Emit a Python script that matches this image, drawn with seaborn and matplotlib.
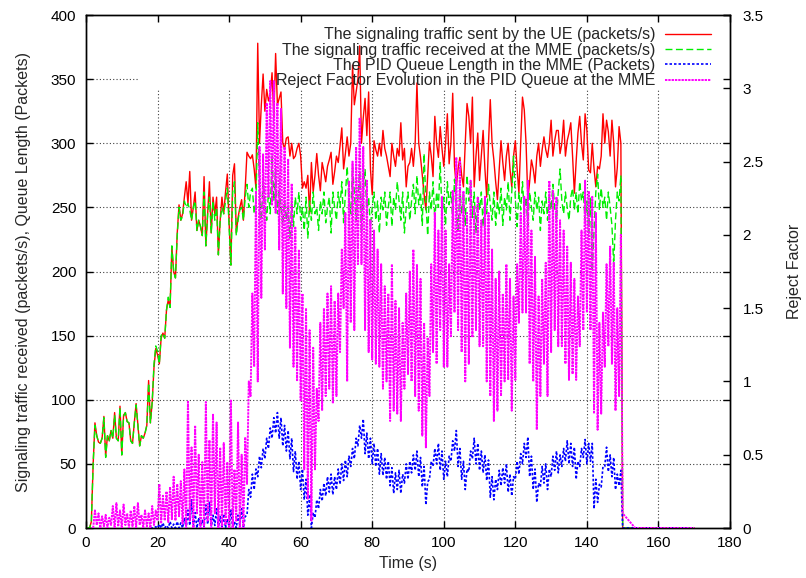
import numpy as np
import pandas as pd
import seaborn as sns
import matplotlib.pyplot as plt

# -----------------------------------------------------------------------------
# Data
# -----------------------------------------------------------------------------
# traffic series: one value every 0.5 s from t=0 to t=149.5, then 0 at 150 and 170
ue_sent = [
    0, 0, 0, 5, 50, 82, 72, 67, 66, 70,
    87, 56, 72, 68, 76, 70, 90, 70, 68, 95,
    57, 88, 90, 83, 82, 68, 66, 82, 97, 80,
    64, 72, 70, 74, 80, 115, 82, 98, 125, 140,
    135, 128, 148, 152, 148, 170, 178, 172, 219, 200,
    195, 230, 252, 240, 245, 258, 270, 253, 278, 240,
    250, 262, 232, 240, 235, 228, 274, 220, 245, 270,
    230, 258, 245, 258, 213, 240, 258, 245, 262, 276,
    238, 205, 275, 284, 230, 242, 250, 256, 240, 265,
    293, 290, 288, 291, 280, 265, 378, 300, 330, 354,
    325, 342, 333, 338, 355, 320, 370, 330, 335, 340,
    300, 296, 304, 305, 290, 300, 288, 290, 296, 300,
    290, 265, 270, 265, 275, 245, 285, 262, 275, 292,
    275, 263, 285, 278, 270, 282, 287, 293, 268, 278,
    290, 285, 298, 312, 280, 292, 305, 290, 300, 361,
    330, 340, 350, 376, 300, 320, 335, 306, 340, 280,
    260, 302, 295, 290, 300, 290, 310, 296, 290, 282,
    274, 300, 290, 282, 296, 290, 316, 287, 296, 266,
    282, 285, 296, 282, 300, 347, 300, 289, 275, 260,
    248, 275, 301, 290, 274, 321, 300, 289, 313, 296,
    282, 300, 323, 284, 300, 339, 282, 266, 280, 289,
    275, 266, 300, 331, 321, 300, 336, 266, 290, 308,
    271, 290, 310, 280, 258, 300, 334, 300, 287, 270,
    256, 280, 302, 285, 271, 290, 300, 280, 266, 290,
    302, 280, 261, 300, 336, 326, 300, 256, 270, 287,
    280, 269, 290, 300, 282, 295, 305, 295, 289, 300,
    318, 290, 302, 310, 310, 292, 300, 318, 290, 302,
    308, 316, 290, 261, 286, 308, 321, 300, 287, 323,
    310, 279, 277, 300, 280, 266, 282, 280, 290, 323,
    300, 318, 309, 290, 318, 300, 266, 281, 313, 300,
    0, 0,
]
mme_received = [
    0, 0, 0, 5, 50, 80, 72, 67, 66, 70,
    86, 55, 72, 68, 76, 70, 88, 70, 68, 94,
    57, 87, 90, 83, 82, 68, 66, 82, 96, 80,
    64, 72, 70, 74, 80, 113, 82, 98, 128, 142,
    138, 128, 150, 152, 148, 170, 180, 172, 220, 200,
    195, 228, 250, 240, 243, 255, 250, 253, 248, 240,
    250, 255, 232, 240, 235, 228, 262, 220, 245, 258,
    230, 255, 240, 250, 213, 240, 250, 245, 255, 265,
    235, 205, 262, 270, 228, 240, 248, 250, 240, 258,
    268, 250, 262, 265, 245, 255, 316, 262, 240, 270,
    255, 240, 262, 245, 290, 255, 280, 245, 262, 250,
    236, 255, 240, 250, 226, 255, 235, 258, 245, 262,
    240, 250, 232, 258, 226, 255, 240, 262, 245, 250,
    232, 255, 245, 262, 238, 250, 258, 230, 262, 250,
    240, 262, 250, 270, 238, 260, 282, 255, 245, 282,
    262, 240, 258, 278, 230, 262, 280, 245, 258, 235,
    250, 262, 240, 255, 230, 258, 248, 262, 236, 250,
    262, 235, 258, 248, 270, 255, 240, 262, 230, 250,
    262, 240, 255, 268, 245, 275, 252, 262, 236, 292,
    255, 228, 262, 248, 270, 240, 262, 250, 285, 245,
    258, 236, 270, 252, 262, 240, 272, 250, 232, 265,
    245, 262, 236, 275, 255, 270, 242, 262, 230, 258,
    248, 262, 235, 258, 245, 268, 252, 240, 262, 236,
    255, 245, 265, 236, 258, 248, 270, 240, 262, 290,
    256, 235, 262, 248, 270, 245, 258, 236, 262, 250,
    240, 262, 248, 258, 232, 255, 245, 262, 240, 258,
    248, 268, 250, 240, 262, 280, 255, 245, 262, 250,
    240, 258, 265, 248, 262, 245, 270, 255, 262, 240,
    255, 230, 258, 200, 232, 262, 276, 248, 265, 250,
    258, 240, 262, 250, 236, 205, 240, 262, 255, 275,
    0, 0,
]

# PID queue length (packets): low / high of the noisy band, each second t=18..149
queue_hi = [
    0, 1, 3, 4, 2, 5, 3, 5, 4, 8,
    14, 22, 12, 8, 6, 18, 20, 10, 15, 9,
    11, 7, 14, 5, 10, 15, 9, 30, 42, 46,
    56, 62, 70, 78, 86, 90, 86, 80, 76, 70,
    60, 52, 46, 38, 26, 12, 22, 30, 35, 40,
    42, 40, 46, 50, 53, 56, 62, 70, 80, 85,
    74, 70, 66, 62, 58, 55, 52, 47, 43, 45,
    42, 50, 52, 57, 60, 55, 48, 36, 52, 62,
    66, 60, 52, 56, 68, 76, 62, 52, 46, 60,
    70, 66, 60, 57, 53, 40, 38, 45, 47, 50,
    42, 40, 52, 58, 66, 71, 56, 46, 35, 48,
    50, 46, 56, 60, 57, 62, 68, 66, 63, 52,
    62, 69, 66, 66, 38, 34, 48, 63, 57, 55, 42, 45,
]
queue_lo = [
    0, 0, 0, 0, 0, 0, 0, 0, 0, 0,
    0, 2, 0, 0, 0, 1, 3, 0, 2, 0,
    0, 0, 1, 0, 0, 2, 0, 10, 24, 30,
    40, 47, 54, 62, 70, 74, 70, 64, 60, 54,
    44, 38, 30, 22, 10, 0, 8, 15, 21, 25,
    28, 26, 30, 34, 37, 40, 48, 54, 64, 70,
    58, 54, 50, 48, 42, 41, 38, 33, 27, 30,
    27, 35, 38, 43, 45, 40, 32, 18, 38, 48,
    50, 45, 38, 40, 52, 60, 48, 38, 30, 44,
    54, 50, 45, 43, 37, 24, 22, 30, 33, 35,
    28, 25, 38, 42, 50, 55, 40, 30, 20, 32,
    35, 30, 40, 45, 43, 48, 52, 50, 48, 38,
    48, 55, 50, 52, 15, 20, 32, 48, 44, 40, 30, 33,
]

# reject factor: low / high of the noisy band, each second t=2..149
reject_hi = [
    0.12, 0.10, 0.08, 0.09, 0.07, 0.15, 0.17, 0.12, 0.16, 0.10,
    0.12, 0.15, 0.17, 0.09, 0.12, 0.10, 0.15, 0.12, 0.30, 0.22,
    0.25, 0.28, 0.35, 0.30, 0.32, 0.40, 0.87, 0.55, 0.70, 0.50,
    0.45, 0.86, 0.60, 0.78, 0.72, 0.55, 0.58, 0.45, 0.87, 0.40,
    0.72, 0.50, 0.62, 1.00, 1.60, 2.30, 2.60, 2.55, 2.90, 3.05,
    3.05, 2.90, 2.86, 2.60, 2.52, 2.35, 2.05, 1.90, 1.60, 1.50,
    1.35, 1.23, 0.95, 1.40, 1.50, 1.60, 1.65, 1.55, 1.60, 1.90,
    2.15, 2.37, 2.50, 2.60, 2.80, 2.60, 2.37, 2.10, 2.03, 1.90,
    1.80, 1.65, 1.60, 1.80, 1.55, 1.50, 1.40, 1.60, 1.75, 1.90,
    1.80, 1.70, 1.40, 1.30, 1.80, 2.15, 2.03, 2.26, 2.03, 1.80,
    2.30, 2.53, 2.50, 2.30, 2.15, 2.37, 2.20, 2.26, 2.10, 2.26,
    2.15, 1.90, 1.70, 1.75, 1.60, 1.80, 1.70, 1.58, 1.80, 2.15,
    2.26, 2.37, 2.03, 1.85, 1.58, 1.70, 1.81, 2.37, 2.30, 2.26,
    2.10, 2.03, 1.92, 1.81, 1.70, 1.58, 2.03, 2.37, 2.30, 2.26,
    2.15, 1.40, 1.47, 1.80, 1.92, 1.81, 1.50, 2.00,
]
reject_lo = [
    0.00, 0.02, 0.00, 0.01, 0.00, 0.02, 0.00, 0.01, 0.00, 0.02,
    0.00, 0.01, 0.00, 0.02, 0.00, 0.01, 0.00, 0.02, 0.05, 0.03,
    0.05, 0.04, 0.06, 0.05, 0.08, 0.03, 0.00, 0.05, 0.00, 0.10,
    0.00, 0.00, 0.05, 0.00, 0.10, 0.00, 0.00, 0.02, 0.00, 0.00,
    0.05, 0.00, 0.00, 0.30, 0.90, 1.10, 1.00, 1.57, 1.90, 2.26,
    2.20, 2.15, 1.90, 1.60, 1.50, 1.23, 1.10, 1.00, 0.87, 0.40,
    0.20, 0.05, 0.40, 0.73, 0.80, 0.90, 0.95, 0.85, 0.90, 1.20,
    1.50, 1.00, 1.40, 1.35, 1.80, 1.80, 1.35, 1.20, 1.15, 1.12,
    1.10, 0.95, 1.00, 0.73, 0.80, 0.78, 0.73, 0.95, 1.05, 1.00,
    0.90, 0.80, 0.63, 0.55, 0.90, 1.20, 1.12, 1.35, 1.10, 1.10,
    1.30, 1.47, 1.35, 1.20, 1.00, 1.12, 1.30, 1.35, 1.24, 1.24,
    1.00, 0.90, 0.73, 0.80, 0.90, 1.00, 1.01, 0.80, 1.01, 1.40,
    1.47, 1.47, 1.12, 1.00, 0.67, 0.90, 1.12, 0.90, 1.20, 1.35,
    1.24, 1.24, 1.12, 1.01, 1.05, 1.01, 1.24, 1.35, 1.47, 1.35,
    0.78, 0.67, 0.78, 1.10, 1.24, 1.12, 0.80, 0.90,
]
# after the load stops
queue_end_t = [150, 170]
queue_end = [0, 0]
reject_end_t = [150, 153.5, 170]
reject_end = [0.10, 0.0, 0.0]

labels = [
    "The signaling traffic sent by the UE (packets/s)",
    "The signaling traffic received at the MME (packets/s)",
    "The PID Queue Length in the MME (Packets)",
    "Reject Factor Evolution in the PID Queue at the MME",
]

# -----------------------------------------------------------------------------
# Build the time axes
# -----------------------------------------------------------------------------
t_traffic = np.append(np.arange(0, 150.5, 0.5), 170)
traffic = pd.DataFrame({"t": t_traffic, "sent": ue_sent, "received": mme_received})


def band(t_start, lo, hi, end_t, end_v):
    # alternate the low and high readings of each second to redraw the noisy band
    t = np.arange(t_start, t_start + len(lo))
    x = np.column_stack([t, t + 0.5]).ravel()
    y = np.column_stack([lo, hi]).ravel()
    return np.append(x, end_t), np.append(y, end_v)


q_t, q_v = band(18, queue_lo, queue_hi, queue_end_t, queue_end)
r_t, r_v = band(2, reject_lo, reject_hi, reject_end_t, reject_end)

# -----------------------------------------------------------------------------
# Plot
# -----------------------------------------------------------------------------
sns.set_theme(style="white")
plt.rcParams['font.family'] = ['Liberation Sans', 'DejaVu Sans']

fig, ax = plt.subplots(figsize=(8.06, 5.78), dpi=100)
fig.subplots_adjust(left=0.1067, right=0.9057, bottom=0.0865, top=0.974)
ax2 = ax.twinx()

# gnuplot-like grid, left out where the key sits
grid_kw = dict(colors='0.25', linestyles=(0, (1, 2)), linewidth=0.8, zorder=0)
ax.vlines(np.arange(20, 180, 20), 0, 342, **grid_kw)
ax.hlines(np.arange(50, 350, 50), 0, 180, **grid_kw)
ax.hlines([350], 0, 14.5, **grid_kw)

sns.lineplot(data=traffic, x="t", y="sent", ax=ax, color="#ff0000", lw=1.0,
             estimator=None, sort=False, label=labels[0], zorder=2)
sns.lineplot(data=traffic, x="t", y="received", ax=ax, color="#00ee00", lw=1.0,
             linestyle=(0, (5, 2.5)), estimator=None, sort=False,
             label=labels[1], zorder=3)
sns.lineplot(x=q_t, y=q_v, ax=ax, color="#0000ff", lw=1.2,
             linestyle=(0, (1.5, 1.2)), estimator=None, sort=False,
             label=labels[2], zorder=4)
sns.lineplot(x=r_t, y=r_v, ax=ax2, color="#ff00ff", lw=1.4,
             linestyle=(0, (1.2, 0.5)), estimator=None, sort=False,
             label=labels[3], zorder=5)

h1, l1 = ax.get_legend_handles_labels()
h2, l2 = ax2.get_legend_handles_labels()
ax.get_legend().remove()
ax2.get_legend().remove()

ax.set_xlim(0, 180)
ax.set_ylim(0, 400)
ax2.set_ylim(0, 3.5)
ax.set_xticks(np.arange(0, 181, 20))
ax.set_yticks(np.arange(0, 401, 50))
ax2.set_yticks(np.arange(0, 3.51, 0.5))
ax2.set_yticklabels(["0", "0.5", "1", "1.5", "2", "2.5", "3", "3.5"])

ax.tick_params(axis='both', direction='in', length=5, width=1, colors='black',
               labelsize=11, bottom=True, top=True, left=True, right=True)
ax.tick_params(axis='y', pad=7)
ax.tick_params(axis='x', pad=6)
ax2.tick_params(axis='y', direction='in', length=5, width=1, colors='black',
                labelsize=11, right=True, left=False, pad=9)

for a in (ax, ax2):
    for s in a.spines.values():
        s.set_color('black')
        s.set_linewidth(1.0)

ax.set_xlabel("Time (s)", fontsize=11.5, labelpad=4)
ax.set_ylabel("Signaling traffic received (packets/s), Queue Length (Packets)",
              fontsize=11.5, labelpad=14)
ax2.set_ylabel("Reject Factor", fontsize=11.5, labelpad=17)

ax2.legend(h1 + h2, l1 + l2, loc='upper right', bbox_to_anchor=(0.9705, 0.976),
           frameon=False, markerfirst=False, handlelength=2.9,
           handletextpad=0.6, labelspacing=0.02, borderpad=0,
           borderaxespad=0, fontsize=11.5)

plt.savefig('out.png', dpi=100)
plt.close()
